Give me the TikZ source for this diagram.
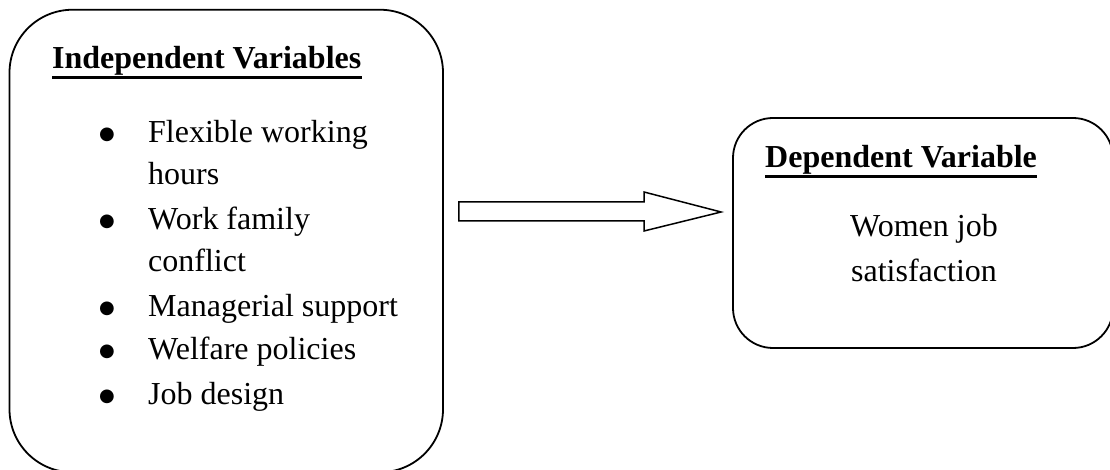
\documentclass[tikz,border=0pt]{standalone}
\usepackage{fontspec}
\setmainfont{Liberation Serif}
\newfontfamily\bulfont{DejaVu Sans}
\begin{document}
\begin{tikzpicture}[x=1bp,y=-1bp,
  box/.style={draw, line width=1.8bp, inner sep=0pt},
  txt/.style={font=\fontsize{32bp}{42bp}\selectfont, inner sep=0pt, anchor=base west},
  ttl/.style={txt, font=\fontsize{32bp}{42bp}\selectfont\bfseries},
  uline/.style={line width=2.6bp},
  bul/.style={inner sep=0pt, anchor=center, font=\bulfont\fontsize{18bp}{18bp}\selectfont},
  arrowshape/.style={draw, line width=1.5bp, line join=miter, fill=white}]
\useasboundingbox (0,0) rectangle (1110,470);
\clip (0,0) rectangle (1110,470);
% boxes
\node[box, rounded corners=63bp, minimum width=433.5bp, minimum height=462.5bp] (iv) at (226.25,241) {};
\node[box, rounded corners=40bp, minimum width=380bp, minimum height=230bp] (dv) at (923,233) {};
% titles
\node[ttl] (ivt) at (52,69) {Independent Variables};
\draw[uline] ([yshift=-8.5bp]ivt.base west) -- ([yshift=-8.5bp]ivt.base east);
\node[ttl] (dvt) at (765,168) {Dependent Variable};
\draw[uline] ([yshift=-8.5bp]dvt.base west) -- ([yshift=-8.5bp]dvt.base east);
% bullets and items (base anchor of a two-line node is its last line)
\node[bul] (b1) at (107,135) {●};
\node[txt, align=left] (i1) at (148,185) {Flexible working\\hours};
\node[bul] (b2) at (107,222) {●};
\node[txt, align=left] (i2) at (148,272) {Work family\\conflict};
\node[bul] (b3) at (107,309) {●};
\node[txt] (i3) at (148,317) {Managerial support};
\node[bul] (b4) at (107,352) {●};
\node[txt] (i4) at (148,360) {Welfare policies};
\node[bul] (b5) at (107,397) {●};
\node[txt] (i5) at (148,405) {Job design};
% dependent text
\node[txt, anchor=base, align=center, font=\fontsize{32bp}{45bp}\selectfont] (dvb) at (924,282) {Women job\\satisfaction};
% block arrow
\coordinate (s) at ([xshift=15bp]iv.east |- 0,211.5);
\coordinate (t) at ([xshift=-11bp]dv.west |- 0,212);
\draw[arrowshape] ([yshift=9.5bp]s) -- ([yshift=9.5bp]s -| 644,0) -- ([yshift=19.5bp]s -| 644,0)
  -- (t) -- ([yshift=-19.5bp]s -| 644,0) -- ([yshift=-9.5bp]s -| 644,0) -- ([yshift=-9.5bp]s) -- cycle;
\end{tikzpicture}
\end{document}
